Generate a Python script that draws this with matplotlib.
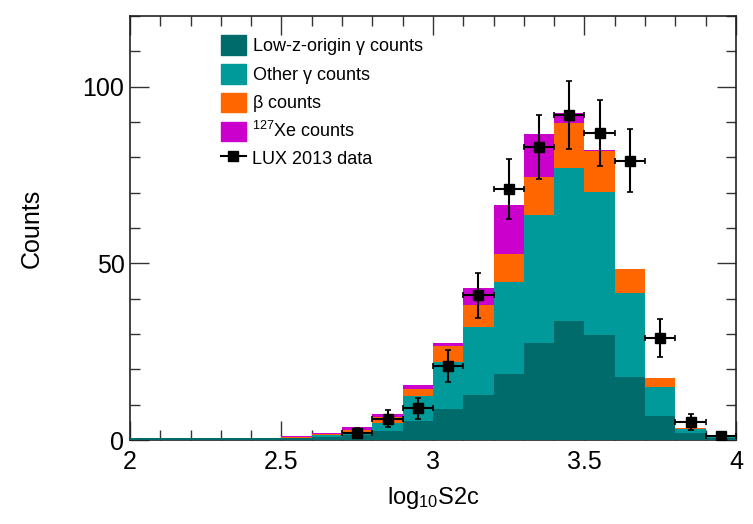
import numpy as np
import matplotlib
matplotlib.use("Agg")
import matplotlib.pyplot as plt
from matplotlib.patches import Patch
from matplotlib.lines import Line2D
from matplotlib.ticker import MultipleLocator

plt.rcParams['font.family'] = ['Liberation Sans', 'DejaVu Sans']
plt.rcParams['mathtext.default'] = 'regular'

# histogram binning in log10(S2c)
bin_edges = [2.0, 2.1, 2.2, 2.3, 2.4, 2.5, 2.6, 2.7, 2.8, 2.9, 3.0,
             3.1, 3.2, 3.3, 3.4, 3.5, 3.6, 3.7, 3.8, 3.9, 4.0]

# simulated background components, per bin (stacked in this order)
low_z_gamma = [0.7, 0.7, 0.7, 0.7, 0.7, 0.6, 0.9, 1.4, 2.5, 5.4,
               8.8, 12.7, 18.6, 27.5, 33.7, 29.7, 17.8, 6.8, 1.9, 0.7]
other_gamma = [0.0, 0.0, 0.0, 0.0, 0.0, 0.1, 0.6, 1.0, 2.4, 7.1,
               13.4, 19.2, 26.0, 36.1, 43.4, 40.6, 23.7, 8.2, 1.1, 0.3]
beta = [0.0, 0.0, 0.0, 0.0, 0.0, 0.1, 0.2, 0.4, 1.7, 1.9,
        4.4, 6.3, 8.1, 10.8, 12.5, 11.6, 6.9, 2.5, 0.4, 0.0]
xe127 = [0.0, 0.0, 0.0, 0.0, 0.0, 0.3, 0.2, 0.8, 0.9, 1.2,
         0.9, 4.9, 13.9, 12.2, 3.0, 0.1, 0.0, 0.0, 0.0, 0.0]

# LUX 2013 data
data_x = [2.75, 2.85, 2.95, 3.05, 3.15, 3.25, 3.35, 3.45, 3.55, 3.65, 3.75, 3.85, 3.95]
data_counts = [2, 6, 9, 21, 41, 71, 83, 92, 87, 79, 29, 5, 1]

components = [
    (low_z_gamma, '#006b6b', r'Low-z-origin $\gamma$ counts'),
    (other_gamma, '#009a9a', r'Other $\gamma$ counts'),
    (beta, '#ff6600', r'$\beta$ counts'),
    (xe127, '#cc00cc', r'$^{127}$Xe counts'),
]

fig = plt.figure(figsize=(7.53, 5.24), dpi=100)
ax = fig.add_axes([0.1726, 0.1603, 0.8048, 0.8092])

left = np.array(bin_edges[:-1])
widths = np.diff(bin_edges)
bottom = np.zeros(len(left))
for vals, color, label in components:
    vals = np.array(vals)
    ax.bar(left, vals, width=widths, bottom=bottom, align='edge',
           color=color, edgecolor='none', linewidth=0, zorder=3)
    bottom += vals

counts = np.array(data_counts, dtype=float)
ax.errorbar(data_x, counts, yerr=np.sqrt(counts), xerr=0.05,
            fmt='s', color='black', markersize=7, elinewidth=1.5,
            capsize=2, capthick=1.2, zorder=5)

ax.set_xlim(2, 4)
ax.set_ylim(0, 120)
ax.xaxis.set_major_locator(MultipleLocator(0.5))
ax.xaxis.set_minor_locator(MultipleLocator(0.1))
ax.yaxis.set_major_locator(MultipleLocator(50))
ax.yaxis.set_minor_locator(MultipleLocator(10))
ax.set_xticks([2, 2.5, 3, 3.5, 4])
ax.set_xticklabels(['2', '2.5', '3', '3.5', '4'])
ax.tick_params(which='both', direction='in', top=True, right=True,
               labelsize=18, width=1.0, color='#333333')
ax.tick_params(which='major', length=14)
ax.tick_params(which='minor', length=7)
ax.tick_params(axis='y', pad=4)
ax.tick_params(axis='x', pad=7)
for s in ax.spines.values():
    s.set_linewidth(1.2)
    s.set_color('#222222')

ax.set_xlabel(r'log$_{10}$S2c', fontsize=17, labelpad=8)
ax.set_ylabel('Counts', fontsize=18, labelpad=28)

handles = [Patch(facecolor=c, edgecolor=c, label=l) for _, c, l in components]
handles.append(Line2D([], [], color='black', marker='s', markersize=7,
                      linewidth=1.5, label='LUX 2013 data'))
ax.legend(handles=handles, loc='upper left', bbox_to_anchor=(0.138, 0.972),
          frameon=False, fontsize=13, handlelength=1.4, handleheight=1.3,
          handletextpad=0.3, labelspacing=0.38, borderaxespad=0)

fig.savefig('out.png', dpi=100)
